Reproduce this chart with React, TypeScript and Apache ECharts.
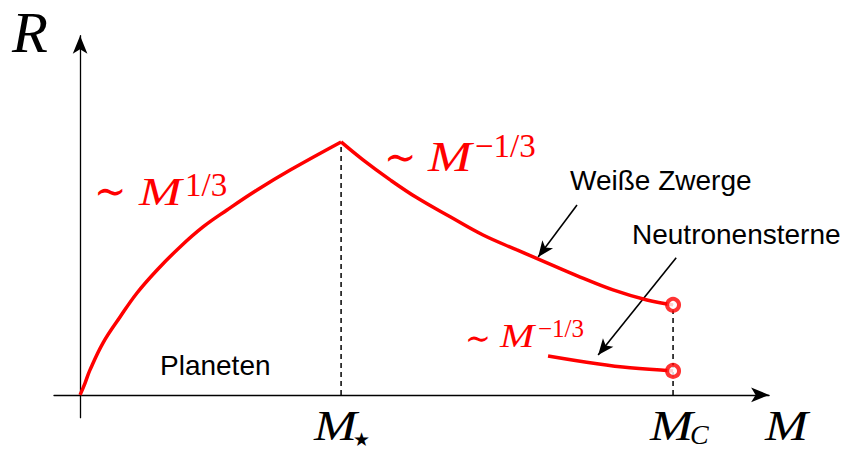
import React, { useEffect, useRef } from "react";
import * as echarts from "echarts";

// Schematic mass–radius relation (arbitrary units: M★ = 1, R at M★ = 1)
const planetM = [0, 0.019, 0.038, 0.088, 0.153, 0.218, 0.295, 0.383, 0.471, 0.563, 0.678, 0.805, 1];
const planetR = [0, 0.047, 0.099, 0.206, 0.308, 0.403, 0.494, 0.585, 0.664, 0.731, 0.81, 0.889, 1];
const dwarfM = [1, 1.084, 1.188, 1.291, 1.418, 1.544, 1.674, 1.789, 1.916, 2.042, 2.172, 2.272];
const dwarfR = [1, 0.929, 0.85, 0.779, 0.704, 0.632, 0.573, 0.522, 0.466, 0.415, 0.375, 0.356];
const neutronM = [1.793, 1.981, 2.107, 2.272];
const neutronR = [0.154, 0.123, 0.107, 0.095];
const mStar = 1;
const mC = 2.272;
// annotation arrows: [fromM, fromR, toM, toR]
const dwarfArrow = [1.904, 0.751, 1.755, 0.545];
const neutronArrow = [2.284, 0.542, 1.985, 0.158];

const RED = "#ff0000";
const SERIF = "'Liberation Serif', 'DejaVu Serif', serif";
const SANS = "'Liberation Sans', Arial, sans-serif";

const zip = (xs: number[], ys: number[]) => xs.map((x, i) => [x, ys[i]]);

export default function App() {
  const ref = useRef<HTMLDivElement>(null);
  useEffect(() => {
    if (!ref.current) return;
    const chart = echarts.init(ref.current, null, { renderer: "svg" });
    const t = (text: string, x: number, y: number, size: number, opts: any = {}) => ({
      type: "text",
      x,
      y,
      scaleX: opts.sx || 1,
      z: 100,
      style: {
        text,
        fontSize: size,
        fontFamily: opts.family || SERIF,
        fontStyle: opts.italic ? "italic" : "normal",
        fill: opts.color || "#000",
        align: "left",
        verticalAlign: "middle",
      },
    });
    const graphic: any[] = [
      t("R", 12, 33, 56, { italic: true, sx: 1.05 }),
      t("M", 765, 426, 43, { italic: true, sx: 1.2 }),
      t("M", 314, 426, 43, { italic: true, sx: 1.2 }),
      t("★", 353, 439, 19, { family: "'DejaVu Sans', sans-serif" }),
      t("M", 650, 426, 43, { italic: true, sx: 1.2 }),
      t("C", 690, 434, 28, { italic: true }),
      t("∼", 94, 191, 44, { color: RED, sx: 0.88 }),
      t("M", 139, 191, 41, { italic: true, color: RED, sx: 1.25 }),
      t("1/3", 185, 185, 33, { color: RED }),
      t("∼", 384, 157, 44, { color: RED, sx: 0.88 }),
      t("M", 428, 157, 42, { italic: true, color: RED, sx: 1.25 }),
      t("−1/3", 475, 146, 33, { color: RED }),
      t("∼", 465, 338, 35, { color: RED, sx: 0.88 }),
      t("M", 500, 336, 33, { italic: true, color: RED, sx: 1.25 }),
      t("−1/3", 538, 328, 25, { color: RED }),
      t("Weiße Zwerge", 570, 180, 28, { family: SANS }),
      t("Neutronensterne", 632, 234, 28, { family: SANS }),
      t("Planeten", 160, 365, 28, { family: SANS }),
    ];
    const redLine = { color: RED, width: 3.5 };
    const dashed = { color: "#000", width: 1.5, type: [5, 4] };
    chart.setOption({
      animation: false,
      grid: { left: 54, top: 35.7, width: 715.1, height: 382 },
      xAxis: {
        type: "value",
        min: -0.1,
        max: 2.64,
        axisLine: { onZero: true, symbol: ["none", "arrow"], symbolSize: [11, 18], lineStyle: { color: "#000", width: 1.3 } },
        axisTick: { show: false },
        axisLabel: { show: false },
        splitLine: { show: false },
      },
      yAxis: {
        type: "value",
        min: -0.09,
        max: 1.42,
        axisLine: { onZero: true, symbol: ["none", "arrow"], symbolSize: [11, 18], lineStyle: { color: "#000", width: 1.3 } },
        axisTick: { show: false },
        axisLabel: { show: false },
        splitLine: { show: false },
      },
      graphic,
      series: [
        { type: "line", data: [[mStar, 0], [mStar, 1]], showSymbol: false, lineStyle: dashed, silent: true },
        { type: "line", data: [[mC, 0], [mC, dwarfR[dwarfR.length - 1]]], showSymbol: false, lineStyle: dashed, silent: true },
        { type: "line", data: zip(planetM, planetR), smooth: 0.4, showSymbol: false, lineStyle: redLine, z: 5 },
        { type: "line", data: zip(dwarfM, dwarfR), smooth: 0.4, showSymbol: false, lineStyle: redLine, z: 5 },
        {
          type: "line",
          data: zip(neutronM, neutronR),
          smooth: 0.4,
          showSymbol: false,
          lineStyle: redLine,
          z: 5,
          markLine: {
            silent: true,
            symbol: ["none", "arrow"],
            symbolSize: [10, 16],
            label: { show: false },
            lineStyle: { color: "#000", width: 1.6, type: "solid" },
            data: [
              [{ coord: [dwarfArrow[0], dwarfArrow[1]] }, { coord: [dwarfArrow[2], dwarfArrow[3]] }],
              [{ coord: [neutronArrow[0], neutronArrow[1]] }, { coord: [neutronArrow[2], neutronArrow[3]] }],
            ],
          },
        },
        {
          type: "scatter",
          data: [[mC, dwarfR[dwarfR.length - 1]], [mC, neutronR[neutronR.length - 1]]],
          symbol: "circle",
          symbolSize: 12,
          itemStyle: { color: "#fff", borderColor: RED, borderWidth: 4 },
          z: 10,
        },
      ],
    });
    return () => chart.dispose();
  }, []);
  return <div ref={ref} style={{ position: "absolute", left: 0, top: 0, width: 855, height: 451 }} />;
}
